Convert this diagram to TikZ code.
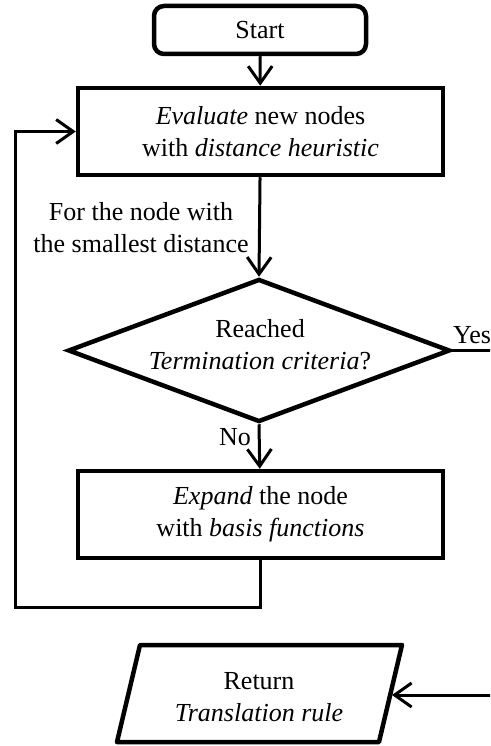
\documentclass[tikz,border=0pt]{standalone}
\usepackage{fontspec}
\setmainfont{Liberation Serif}
\usetikzlibrary{shapes.geometric,arrows.meta}
\begin{document}
\begin{tikzpicture}[x=1pt,y=-1pt,
  txt/.style={font=\fontsize{26}{32}\selectfont, align=center, inner sep=0pt},
  boxnode/.style={draw, line width=4.5pt, rectangle, minimum width=365pt, minimum height=87pt, inner sep=0pt, font=\fontsize{26}{32}\selectfont, align=center},
  conn/.style={line width=3pt},
  arr/.style={conn, -{Straight Barb[length=17pt,width=24pt]}}
]
\useasboundingbox (0,0) rectangle (490,746);
\clip (0,0) rectangle (490,746);

\node[draw, line width=4.5pt, rounded corners=10pt, minimum width=212pt, minimum height=48pt, inner sep=0pt, font=\fontsize{26}{32}\selectfont] (start) at (260,30) {Start};

\node[boxnode] (eval) at (260.5,131.5) {\textit{Evaluate} new nodes\\with \textit{distance heuristic}};

\node[diamond, draw, line width=4.5pt, minimum width=382pt, minimum height=143pt, inner sep=0pt] (dec) at (259,350.5) {};
\node[txt] (dectxt) at (260,345) {Reached\\\textit{Termination criteria}?};

\node[boxnode] (exp) at (260.5,514.5) {\textit{Expand} the node\\with \textit{basis functions}};

\node[txt] (lbl) at (141,228) {For the node with\\the smallest distance};
\node[txt, anchor=base east] (no) at (251,445) {No};
\node[txt, anchor=base west] (yes) at (453,343) {Yes};

% Return parallelogram
\coordinate (p1) at (140,645);
\coordinate (p2) at (402,645);
\coordinate (p3) at (379,742);
\coordinate (p4) at (117,742);
\draw[line width=4.5pt, line join=round] (p1) -- (p2) -- (p3) -- (p4) -- cycle;
\node[txt] (ret) at (259,697) {Return\\\textit{Translation rule}};
\coordinate (retin) at (392,695);
\coordinate (retsrc) at (495,695);

\coordinate (yesend) at (495,350.5);
\coordinate (lb) at (15,607);

\draw[arr] (start) -- (eval);
\draw[arr] (eval) -- (dec.north);
\draw[arr] (dec.south) -- (exp);
\draw[conn] (dec.east) -- (yesend);
\draw[arr, line join=miter] (exp.south) |- (lb) |- (eval.west);
\draw[arr] (retsrc) -- (retin);
\end{tikzpicture}
\end{document}
